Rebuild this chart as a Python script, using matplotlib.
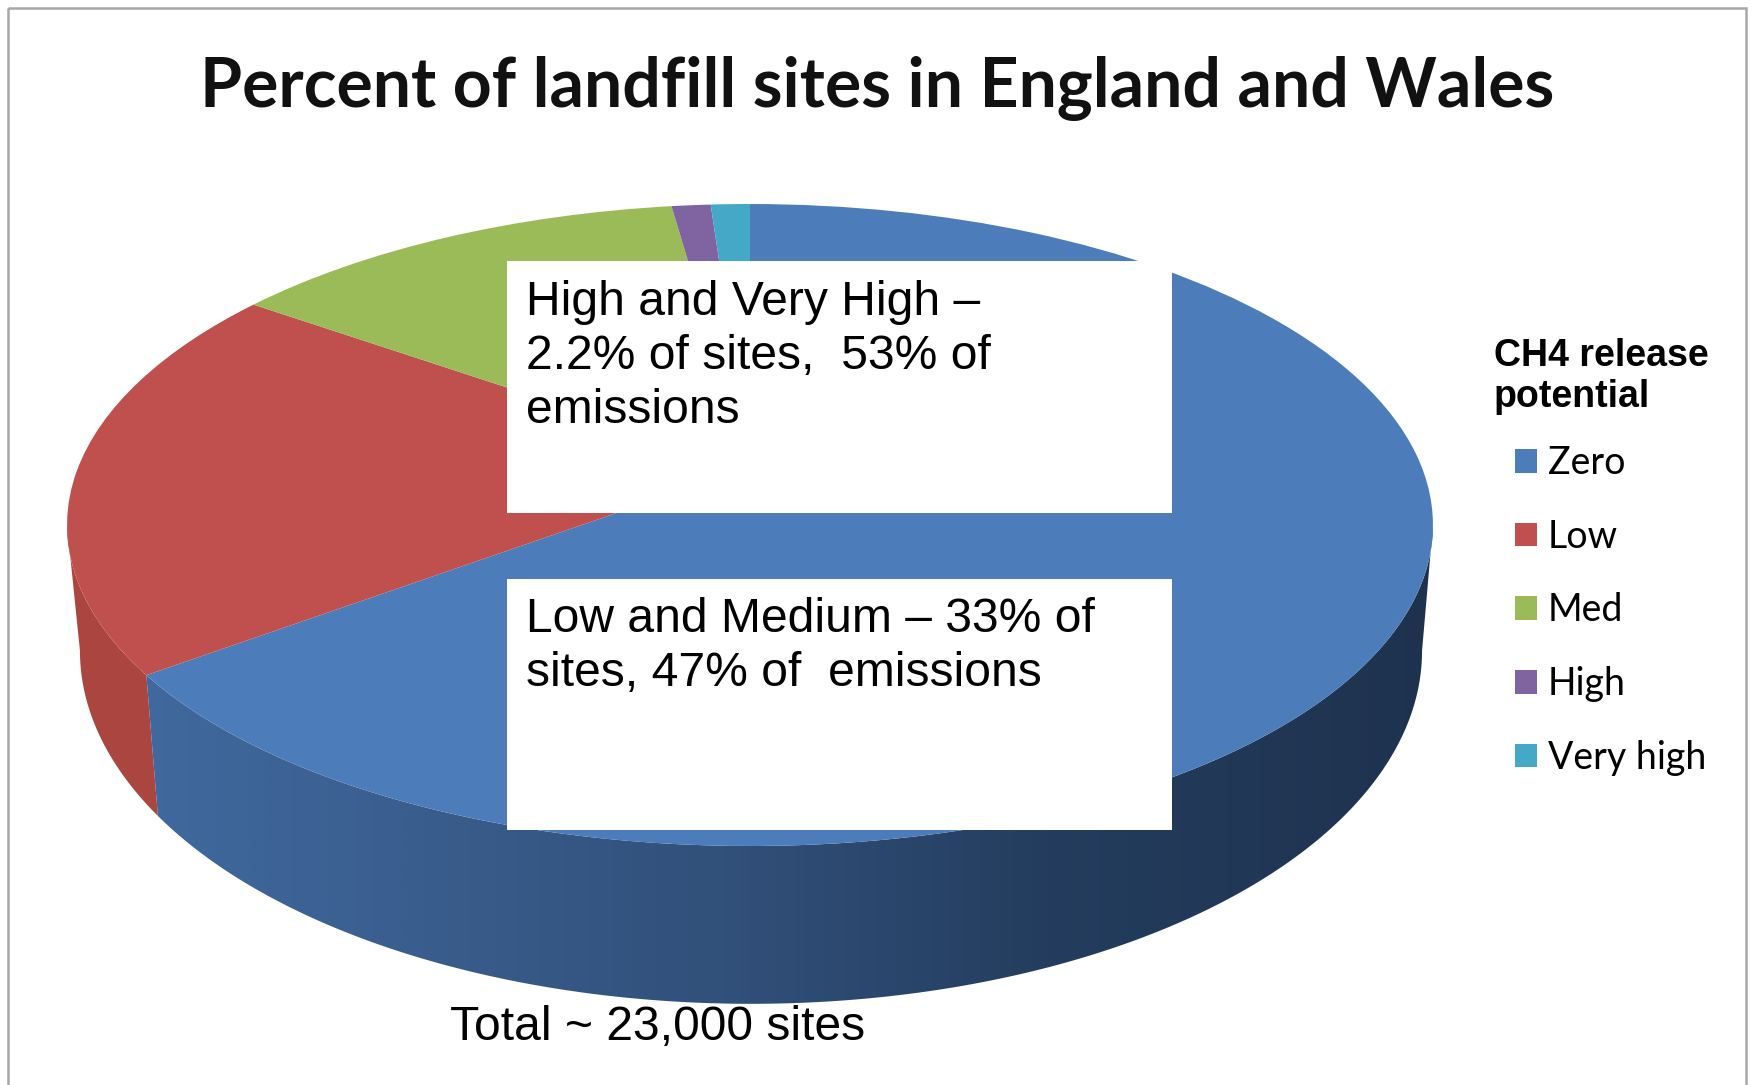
import numpy as np
import matplotlib
matplotlib.use('Agg')
import matplotlib.pyplot as plt
from matplotlib.colors import LinearSegmentedColormap
from matplotlib.patches import Polygon, Rectangle
from matplotlib.transforms import Transform

# values
categories = ['Zero', 'Low', 'Med', 'High', 'Very high']
shares = [64.8, 20.0, 13.0, 1.1, 1.1]
slice_colors = ['#4c7dba', '#c0504d', '#9bbb59', '#8064a2', '#43a9c6']

title = 'Percent of landfill sites in England and Wales'
legend_title = 'CH4 release\npotential'
note_high = 'High and Very High \u2013\n2.2% of sites,  53% of\nemissions'
note_low = 'Low and Medium \u2013 33% of\nsites, 47% of  emissions'
note_total = 'Total ~ 23,000 sites'

W, H = 1752, 1085
ARIAL = 'Liberation Sans'
K = 0.1807  # perspective tilt of the disc


class Tilt(Transform):
    # unit circle -> tilted disc in pixels, the pie centre lands above the ellipse centre
    input_dims = 2
    output_dims = 2

    def __init__(self, a, b, cx, cy):
        super().__init__()
        self.a, self.b, self.cx, self.cy = a, b, cx, cy

    def transform_non_affine(self, values):
        x, y = np.asarray(values).T
        w = 1 + K * y
        return np.c_[self.cx + self.a * x / w, self.cy - self.b * y / w]


fig = plt.figure(figsize=(W / 100, H / 100), dpi=100, facecolor='white')
ax = fig.add_axes([0, 0, 1, 1])

top_face = Tilt(671.7, 310.5, 750, 467)
low_face = Tilt(660, 341.5, 751, 587)

wedges, _ = ax.pie(shares, colors=slice_colors, startangle=90, counterclock=False,
                   radius=1, frame=True, wedgeprops={'linewidth': 0})
for w in wedges:
    w.set_transform(top_face + ax.transData)
    w.set_zorder(5)


def arc(face, a, b):
    t = np.radians(np.linspace(a, b, 200))
    return face.transform_non_affine(np.c_[np.cos(t), np.sin(t)])


# side wall, runs between the widest points of the disc
edge = np.degrees(np.arcsin(K))
split = 90 - 360 * shares[0] / sum(shares) + 360

red_wall = np.r_[arc(top_face, 180 + edge, split), arc(low_face, split, 180 + edge)]
ax.add_patch(Polygon(red_wall, closed=True, fc='#ab453f', ec='none', zorder=2))

blue_wall = np.r_[arc(top_face, split, 360 - edge), arc(low_face, 360 - edge, split)]
wall_clip = Polygon(blue_wall, closed=True, fc='none', ec='none')
ax.add_patch(wall_clip)
wall_cmap = LinearSegmentedColormap.from_list('wall', [
    (0.0, '#41699f'), (0.2, '#3a5e8e'), (0.45, '#31507a'),
    (0.7, '#243d5e'), (1.0, '#1e324e')])
grad = ax.imshow(np.linspace(0, 1, 512)[None, :], cmap=wall_cmap, aspect='auto',
                 extent=(140, 1440, 1010, 500), zorder=2)
grad.set_clip_path(wall_clip)

ax.set_xlim(0, W)
ax.set_ylim(H, 0)
ax.set_aspect('auto')
ax.axis('off')

# outer frame
ax.add_patch(Rectangle((8, 8), 1738, 1090, fc='none', ec='#a8a8a8', lw=1.8, zorder=1))

ax.text(877, 107, title, family='Lato', weight='bold', fontsize=49,
        ha='center', va='baseline', color='#111111', zorder=8)

# white note boxes on top of the pie
ax.add_patch(Rectangle((507, 261), 665, 252, fc='white', ec='none', zorder=6))
ax.add_patch(Rectangle((507, 579), 665, 251, fc='white', ec='none', zorder=6))
ax.text(526, 280, note_high, family=ARIAL, fontsize=34.6, va='top', linespacing=1.26, zorder=7)
ax.text(526, 597, note_low, family=ARIAL, fontsize=34.6, va='top', linespacing=1.26, zorder=7)
ax.text(450, 1040, note_total, family=ARIAL, fontsize=34.6, va='baseline', zorder=7)

# legend
ax.text(1494, 338, legend_title, family=ARIAL, weight='bold', fontsize=27,
        va='top', linespacing=1.17, zorder=7)
leg = ax.legend(wedges, categories, loc='upper left', bbox_to_anchor=(1515, 445),
                bbox_transform=ax.transData, frameon=False,
                prop={'family': 'Lato', 'size': 27}, borderpad=0, borderaxespad=0,
                handlelength=0.587, handleheight=0.587, handletextpad=0.29,
                labelspacing=1.005)
leg.set_zorder(7)

fig.savefig('out.png', dpi=100)
